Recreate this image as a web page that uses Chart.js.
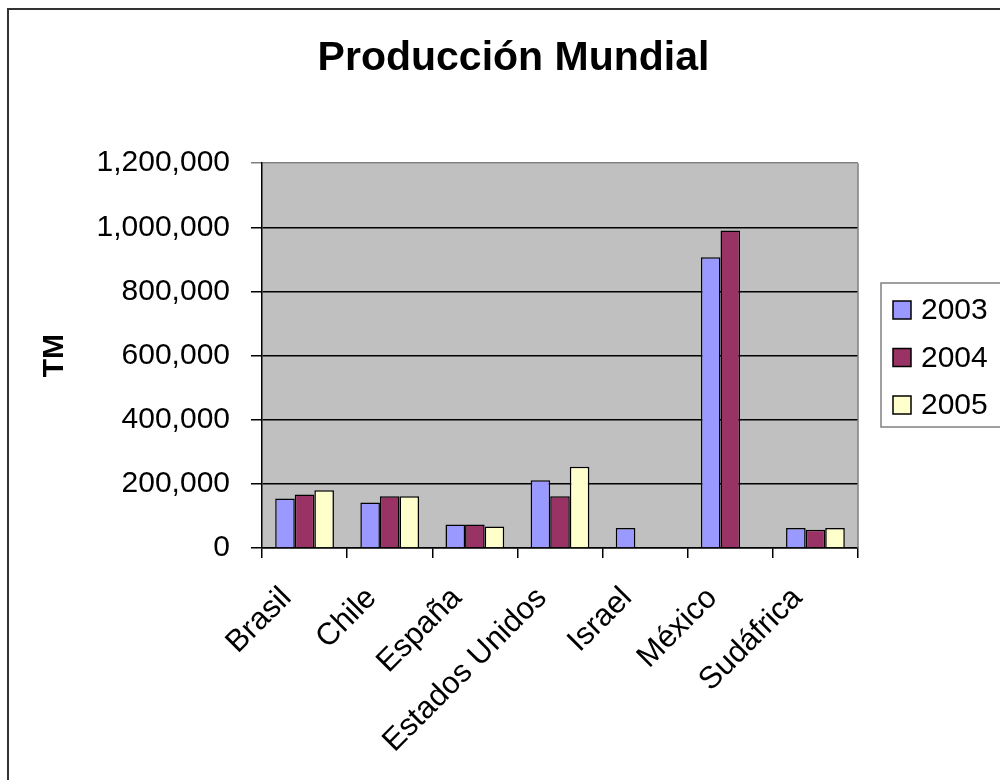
<!DOCTYPE html>
<html lang="es">
<head>
  <meta charset="UTF-8">
  <title>Producción Mundial</title>
  <script src="https://cdn.jsdelivr.net/npm/chart.js"></script>
  <style>
    html, body { margin: 0; padding: 0; background: #fff; overflow: hidden; }
    #wrap { position: absolute; left: 0; top: 0; width: 1027px; height: 800px; }
  </style>
</head>
<body>
  <div id="wrap"><canvas id="prodChart"></canvas></div>

  <script>
    // Paises y produccion anual (TM)
    const paises = ['Brasil', 'Chile', 'España', 'Estados Unidos', 'Israel', 'México', 'Sudáfrica'];
    const anios = ['2003', '2004', '2005'];
    const prod2003 = [154000, 142000, 73000, 211000, 62000, 907000, 62000];
    const prod2004 = [167000, 161000, 73000, 161000, null, 990000, 57000];
    const prod2005 = [180000, 161000, 67000, 253000, null, null, 62000];
    const colores = ['#9999FF', '#993366', '#FFFFCC'];
    const yTicks = [0, 200000, 400000, 600000, 800000, 1000000, 1200000];

    const FONT = '"Liberation Sans", Arial, sans-serif';

    // fondo gris del area de trazado, marco exterior y leyenda
    const excelLook = {
      id: 'excelLook',
      beforeDraw(chart) {
        const { ctx, chartArea: a } = chart;
        ctx.save();
        ctx.fillStyle = '#C0C0C0';
        ctx.fillRect(a.left, a.top, a.right - a.left, a.bottom - a.top);
        ctx.restore();
      },
      afterDraw(chart) {
        const { ctx, chartArea: a } = chart;
        ctx.save();
        // borde derecho del area de trazado
        ctx.strokeStyle = '#808080';
        ctx.lineWidth = 1.5;
        ctx.beginPath();
        ctx.moveTo(a.right, a.top);
        ctx.lineTo(a.right, a.bottom);
        ctx.stroke();

        // marco del grafico
        ctx.strokeStyle = '#333';
        ctx.lineWidth = 2;
        ctx.beginPath();
        ctx.moveTo(8, 800);
        ctx.lineTo(8, 9);
        ctx.lineTo(1027, 9);
        ctx.stroke();

        // leyenda
        ctx.strokeStyle = '#808080';
        ctx.lineWidth = 1.5;
        ctx.strokeRect(881, 283, 200, 144);
        ctx.font = '30px ' + FONT;
        ctx.textBaseline = 'middle';
        ctx.textAlign = 'left';
        chart.data.datasets.forEach((ds, i) => {
          const cy = 310 + i * 47.5;
          ctx.fillStyle = ds.backgroundColor;
          ctx.fillRect(893, cy - 9, 18, 18);
          ctx.strokeStyle = '#000';
          ctx.lineWidth = 1.5;
          ctx.strokeRect(893, cy - 9, 18, 18);
          ctx.fillStyle = '#000';
          ctx.fillText(ds.label, 921, cy + 1);
        });
        ctx.restore();
      }
    };

    const datos = [prod2003, prod2004, prod2005];

    new Chart(document.getElementById('prodChart'), {
      type: 'bar',
      data: {
        labels: paises,
        datasets: anios.map((a, i) => ({
          label: a,
          data: datos[i],
          backgroundColor: colores[i],
          borderColor: '#000',
          borderWidth: 1.5,
          categoryPercentage: 0.69,
          barPercentage: 1
        }))
      },
      options: {
        responsive: true,
        maintainAspectRatio: false,
        animation: false,
        layout: { padding: 0 },
        plugins: {
          legend: { display: false },
          tooltip: { enabled: false },
          title: {
            display: true,
            text: 'Producción Mundial',
            color: '#000',
            font: { family: FONT, size: 41, weight: 'bold' },
            padding: { top: 34, bottom: 80 }
          }
        },
        scales: {
          x: {
            afterFit(s) { s.height = 252; },
            border: { color: '#000', width: 1.5 },
            grid: { drawOnChartArea: false, drawTicks: true, tickLength: 10, color: '#000', lineWidth: 1.5 },
            ticks: {
              autoSkip: false,
              maxRotation: 45,
              minRotation: 45,
              labelOffset: -18,
              padding: 22,
              color: '#000',
              font: { family: FONT, size: 31 }
            }
          },
          y: {
            min: 0,
            max: 1200000,
            afterFit(s) { s.width = 262; },
            afterBuildTicks(s) { s.ticks = yTicks.map(v => ({ value: v })); },
            border: { color: '#000', width: 1.5 },
            grid: {
              color: ctx => ctx.tick && ctx.tick.value === 1200000 ? '#808080' : '#000',
              lineWidth: 1.5,
              tickLength: 11
            },
            ticks: {
              padding: 21,
              color: '#000',
              font: { family: FONT, size: 30 },
              callback: v => v.toLocaleString('en-US')
            },
            title: {
              display: true,
              text: 'TM',
              color: '#000',
              font: { family: FONT, size: 30, weight: 'bold' },
              padding: { top: 37, bottom: 0 }
            }
          },
          // columna vacia a la derecha, reservada para la leyenda
          hueco: {
            type: 'linear',
            position: 'right',
            min: 0,
            max: 1,
            afterFit(s) { s.width = 169; },
            grid: { display: false },
            border: { display: false },
            ticks: { display: false }
          }
        }
      },
      plugins: [excelLook]
    });
  </script>
</body>
</html>
